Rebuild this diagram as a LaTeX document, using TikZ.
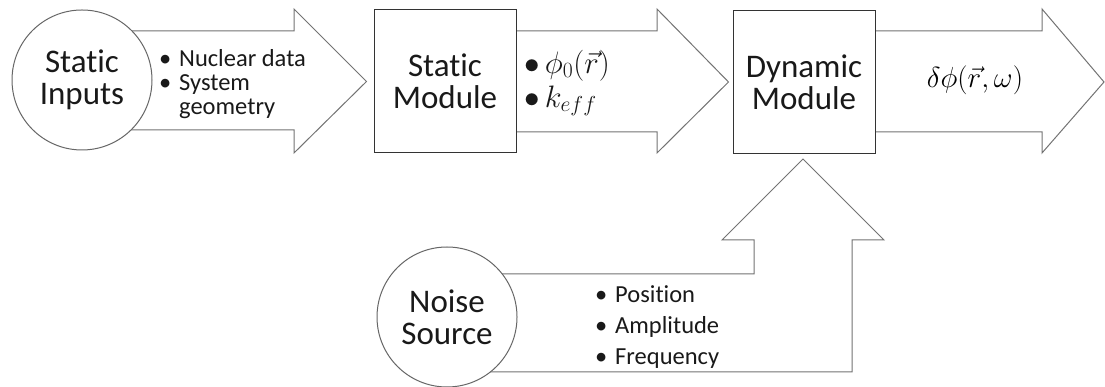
\RequirePackage{fix-cm}
\documentclass[tikz,border=0pt]{standalone}
\usepackage{amsmath}
\usepackage{fontspec}
\setmainfont{Carlito}[Ligatures=NoCommon]
\usetikzlibrary{calc,backgrounds}

\newcommand{\bitem}[1]{\makebox[20pt][l]{•}#1}
\newcommand{\bcont}[1]{\hspace*{20pt}#1}

\begin{document}
\begin{tikzpicture}[x=1pt, y=1pt,
  title/.style={font=\fontsize{33}{32}\selectfont, align=center, text=black!90},
  ring/.style={circle, draw=black!60, line width=1pt, fill=white, minimum size=140pt, inner sep=0pt},
  module/.style={rectangle, draw=black!80, line width=1pt, fill=white, minimum width=142pt, minimum height=143pt},
  blockarrow/.style={draw=black!55, line width=1pt, fill=white, line join=miter},
  bullets/.style={font=\fontsize{24.5}{24}\selectfont, align=left, anchor=west, inner sep=0pt, text=black!90}]
  \useasboundingbox (0,0) rectangle (1105,387);
  % blocks
  \node[ring, title] (inputs) at (82,307) {Static\\Inputs};
  \node[module, title] (statmod) at (445,305.5) {Static\\Module};
  \node[module, title] (dynmod) at (804,305) {Dynamic\\Module};
  \node[ring, title] (noise) at (447,70) {Noise\\Source};
  \coordinate (out) at (1104,305);
  % block arrows
  \begin{scope}[on background layer]
    \draw[blockarrow] ($(inputs.center)+(0,49)$) -- (294,356) -- (294,378) -- ($(statmod.west)+(-7,0)$)
      -- (294,234) -- (294,257) -- ($(inputs.center)+(0,-50)$) -- cycle;
    \draw[blockarrow] ($(statmod.center)+(0,50.5)$) -- (657,356) -- (657,378) -- ($(dynmod.west)+(-4,0)$)
      -- (657,234) -- (657,255) -- ($(statmod.center)+(0,-50.5)$) -- cycle;
    \draw[blockarrow] ($(dynmod.center)+(0,51)$) -- (1042,356) -- (1042,378) -- (out)
      -- (1042,234) -- (1042,255) -- ($(dynmod.center)+(0,-50)$) -- cycle;
    \draw[blockarrow] ($(noise.center)+(0,43)$) -- (754,113) -- (754,147) -- (722,147) -- ($(dynmod.south)+(-1,-5)$)
      -- (884,147) -- (852,147) -- (852,15) -- ($(noise.center)+(0,-55)$) -- cycle;
  \end{scope}
  % arrow labels
  \node[bullets] (inlist) at (159,303) {\bitem{Nuclear data}\\\bitem{System}\\\bcont{geometry}};
  \node[bullets, font=\fontsize{31}{34}\selectfont] (statout) at (524,304) {$\bullet\,\phi_0(\vec{r})$\\$\bullet\,k_{eff}$};
  \node[font=\fontsize{29}{29}\selectfont] (dynout) at (975,307) {$\delta\phi(\vec{r},\omega)$};
  \node[bullets, font=\fontsize{24.5}{31}\selectfont] (noiselist) at (595,60) {\bitem{Position}\\\bitem{Amplitude}\\\bitem{Frequency}};
\end{tikzpicture}
\end{document}
